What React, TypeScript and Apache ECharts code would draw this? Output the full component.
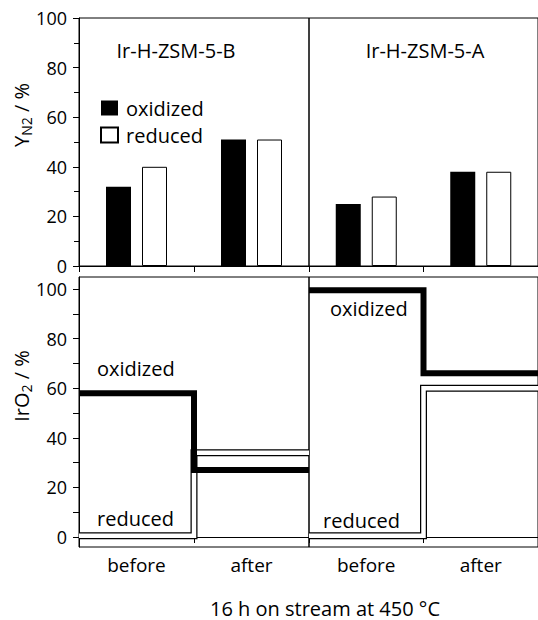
import React, { useEffect, useRef } from 'react';
import * as echarts from 'echarts';

const categories = ['before', 'after'];
const yieldOxidizedB = [32, 51];
const yieldReducedB = [40, 51];
const yieldOxidizedA = [25, 38];
const yieldReducedA = [28, 38];
const irO2OxidizedB = [58, 27];
const irO2ReducedB = [0.5, 34];
const irO2OxidizedA = [99.5, 66];
const irO2ReducedA = [0.5, 60];
const irO2TickValues = [0, 10, 20, 30, 40, 50, 60, 70, 80, 90, 100];
const irO2LabelValues = [0, 20, 40, 60, 80, 100];

const FONT = '"Open Sans", sans-serif';

function steps(v: number[]) {
  return [
    [0, v[0]],
    [1, v[0]],
    [1, v[1]],
    [2, v[1]],
  ];
}

export default function App() {
  const ref = useRef<HTMLDivElement>(null);
  useEffect(() => {
    if (!ref.current) return;
    const chart = echarts.init(ref.current, null, { renderer: 'svg' });
    const black = '#000';
    const axisLine = { show: true, lineStyle: { color: black, width: 1 } };
    const gridBase = { show: true, borderColor: black, borderWidth: 1, backgroundColor: 'transparent' };
    const catAxis = (gridIndex: number, showLabels: boolean) => ({
      type: 'category',
      gridIndex,
      data: categories,
      boundaryGap: true,
      axisLine,
      axisTick: { show: true, length: 6, alignWithLabel: false, lineStyle: { color: black } },
      axisLabel: { show: showLabels, fontSize: 19, color: black, fontFamily: FONT, margin: 8 },
      splitLine: { show: false },
    });
    const valX = (gridIndex: number) => ({ type: 'value', gridIndex, min: 0, max: 2, show: false });
    const lineS = (name: string, xi: number, yi: number, data: number[], width: number, color: string, z: number) => ({
      type: 'line',
      name,
      xAxisIndex: xi,
      yAxisIndex: yi,
      data: steps(data),
      symbol: 'none',
      silent: true,
      z,
      lineStyle: { color, width, join: 'miter', cap: 'butt' },
    });
    const barS = (name: string, xi: number, data: number[], ox: boolean) => ({
      type: 'bar',
      name,
      xAxisIndex: xi,
      yAxisIndex: xi,
      data,
      barWidth: 25,
      barGap: '44%',
      silent: true,
      itemStyle: ox
        ? { color: black }
        : { color: '#fff', borderColor: black, borderWidth: 1 },
    });
    const txt = (text: string, x: number, y: number, align = 'left') => ({
      type: 'text',
      x,
      y,
      silent: true,
      style: { text, fontSize: 20, lineHeight: 20, fontFamily: FONT, fill: black, align, verticalAlign: 'middle' },
    });
    const subTitle = (parts: [string, string, string], x: number, y: number) => ({
      type: 'text',
      x,
      y,
      rotation: Math.PI / 2,
      silent: true,
      style: {
        text: `{a|${parts[0]}}{s|${parts[1]}}{a|${parts[2]}}`,
        align: 'center',
        verticalAlign: 'middle',
        rich: {
          a: { fontSize: 20, fontFamily: FONT, fill: black, lineHeight: 24 },
          s: { fontSize: 14, fontFamily: FONT, fill: black, lineHeight: 14, verticalAlign: 'bottom' },
        },
      },
    });
    const yLabel = { fontSize: 18, lineHeight: 14, color: black, fontFamily: FONT, margin: 12 };

    chart.setOption({
      animation: false,
      textStyle: { fontFamily: FONT },
      grid: [
        { ...gridBase, left: 79, top: 18, width: 230, height: 248 },
        { ...gridBase, left: 309, top: 18, right: -1, height: 248 },
        { ...gridBase, left: 79, top: 277, width: 230, height: 270 },
        { ...gridBase, left: 309, top: 277, right: -1, height: 270 },
      ],
      legend: {
        data: ['oxidized', 'reduced'],
        orient: 'vertical',
        left: 95,
        top: 93,
        icon: 'rect',
        itemWidth: 17,
        itemHeight: 15,
        itemGap: 7,
        selectedMode: false,
        textStyle: { fontSize: 20, fontFamily: FONT, color: black, lineHeight: 15, padding: [0, 0, 0, 3] },
      },
      xAxis: [catAxis(0, false), catAxis(1, false), catAxis(2, true), catAxis(3, true), valX(2), valX(3)],
      yAxis: [
        {
          type: 'value',
          gridIndex: 0,
          min: 0,
          max: 100,
          interval: 20,
          axisLine,
          axisTick: { show: true, length: 6, lineStyle: { color: black } },
          minorTick: { show: true, splitNumber: 2, length: 5, lineStyle: { color: black } },
          splitLine: { show: false },
          minorSplitLine: { show: false },
          axisLabel: yLabel,
        },
        { type: 'value', gridIndex: 1, min: 0, max: 100, show: false, splitLine: { show: false } },
        {
          type: 'value',
          gridIndex: 2,
          min: -4.03,
          max: 104.84,
          axisLine,
          axisTick: { show: true, length: 6, customValues: irO2TickValues, lineStyle: { color: black } },
          splitLine: { show: false },
          axisLabel: { ...yLabel, customValues: irO2LabelValues },
        },
        { type: 'value', gridIndex: 3, min: -4.03, max: 104.84, show: false, splitLine: { show: false } },
      ],
      series: [
        barS('oxidized', 0, yieldOxidizedB, true),
        barS('reduced', 0, yieldReducedB, false),
        barS('oxidized', 1, yieldOxidizedA, true),
        barS('reduced', 1, yieldReducedA, false),
        lineS('IrO2 reduced B outline', 4, 2, irO2ReducedB, 7, black, 2),
        lineS('IrO2 reduced B', 4, 2, irO2ReducedB, 4.5, '#fff', 3),
        lineS('IrO2 oxidized B', 4, 2, irO2OxidizedB, 6, black, 4),
        lineS('IrO2 reduced A outline', 5, 3, irO2ReducedA, 7, black, 2),
        lineS('IrO2 reduced A', 5, 3, irO2ReducedA, 4.5, '#fff', 3),
        lineS('IrO2 oxidized A', 5, 3, irO2OxidizedA, 6, black, 4),
      ],
      graphic: [
        txt('Ir-H-ZSM-5-B', 176, 50, 'center'),
        txt('Ir-H-ZSM-5-A', 425, 50, 'center'),
        txt('oxidized', 97, 368),
        txt('reduced', 97, 518),
        txt('oxidized', 330, 308),
        txt('reduced', 323, 520),
        txt('16 h on stream at 450 °C', 325, 608, 'center'),
        subTitle(['Y', 'N2', ' / %'], 21, 115),
        subTitle(['IrO', '2', ' / %'], 21, 386),
      ],
    });
    return () => chart.dispose();
  }, []);
  return <div ref={ref} style={{ position: 'absolute', left: 0, top: 0, width: 538, height: 620 }} />;
}
